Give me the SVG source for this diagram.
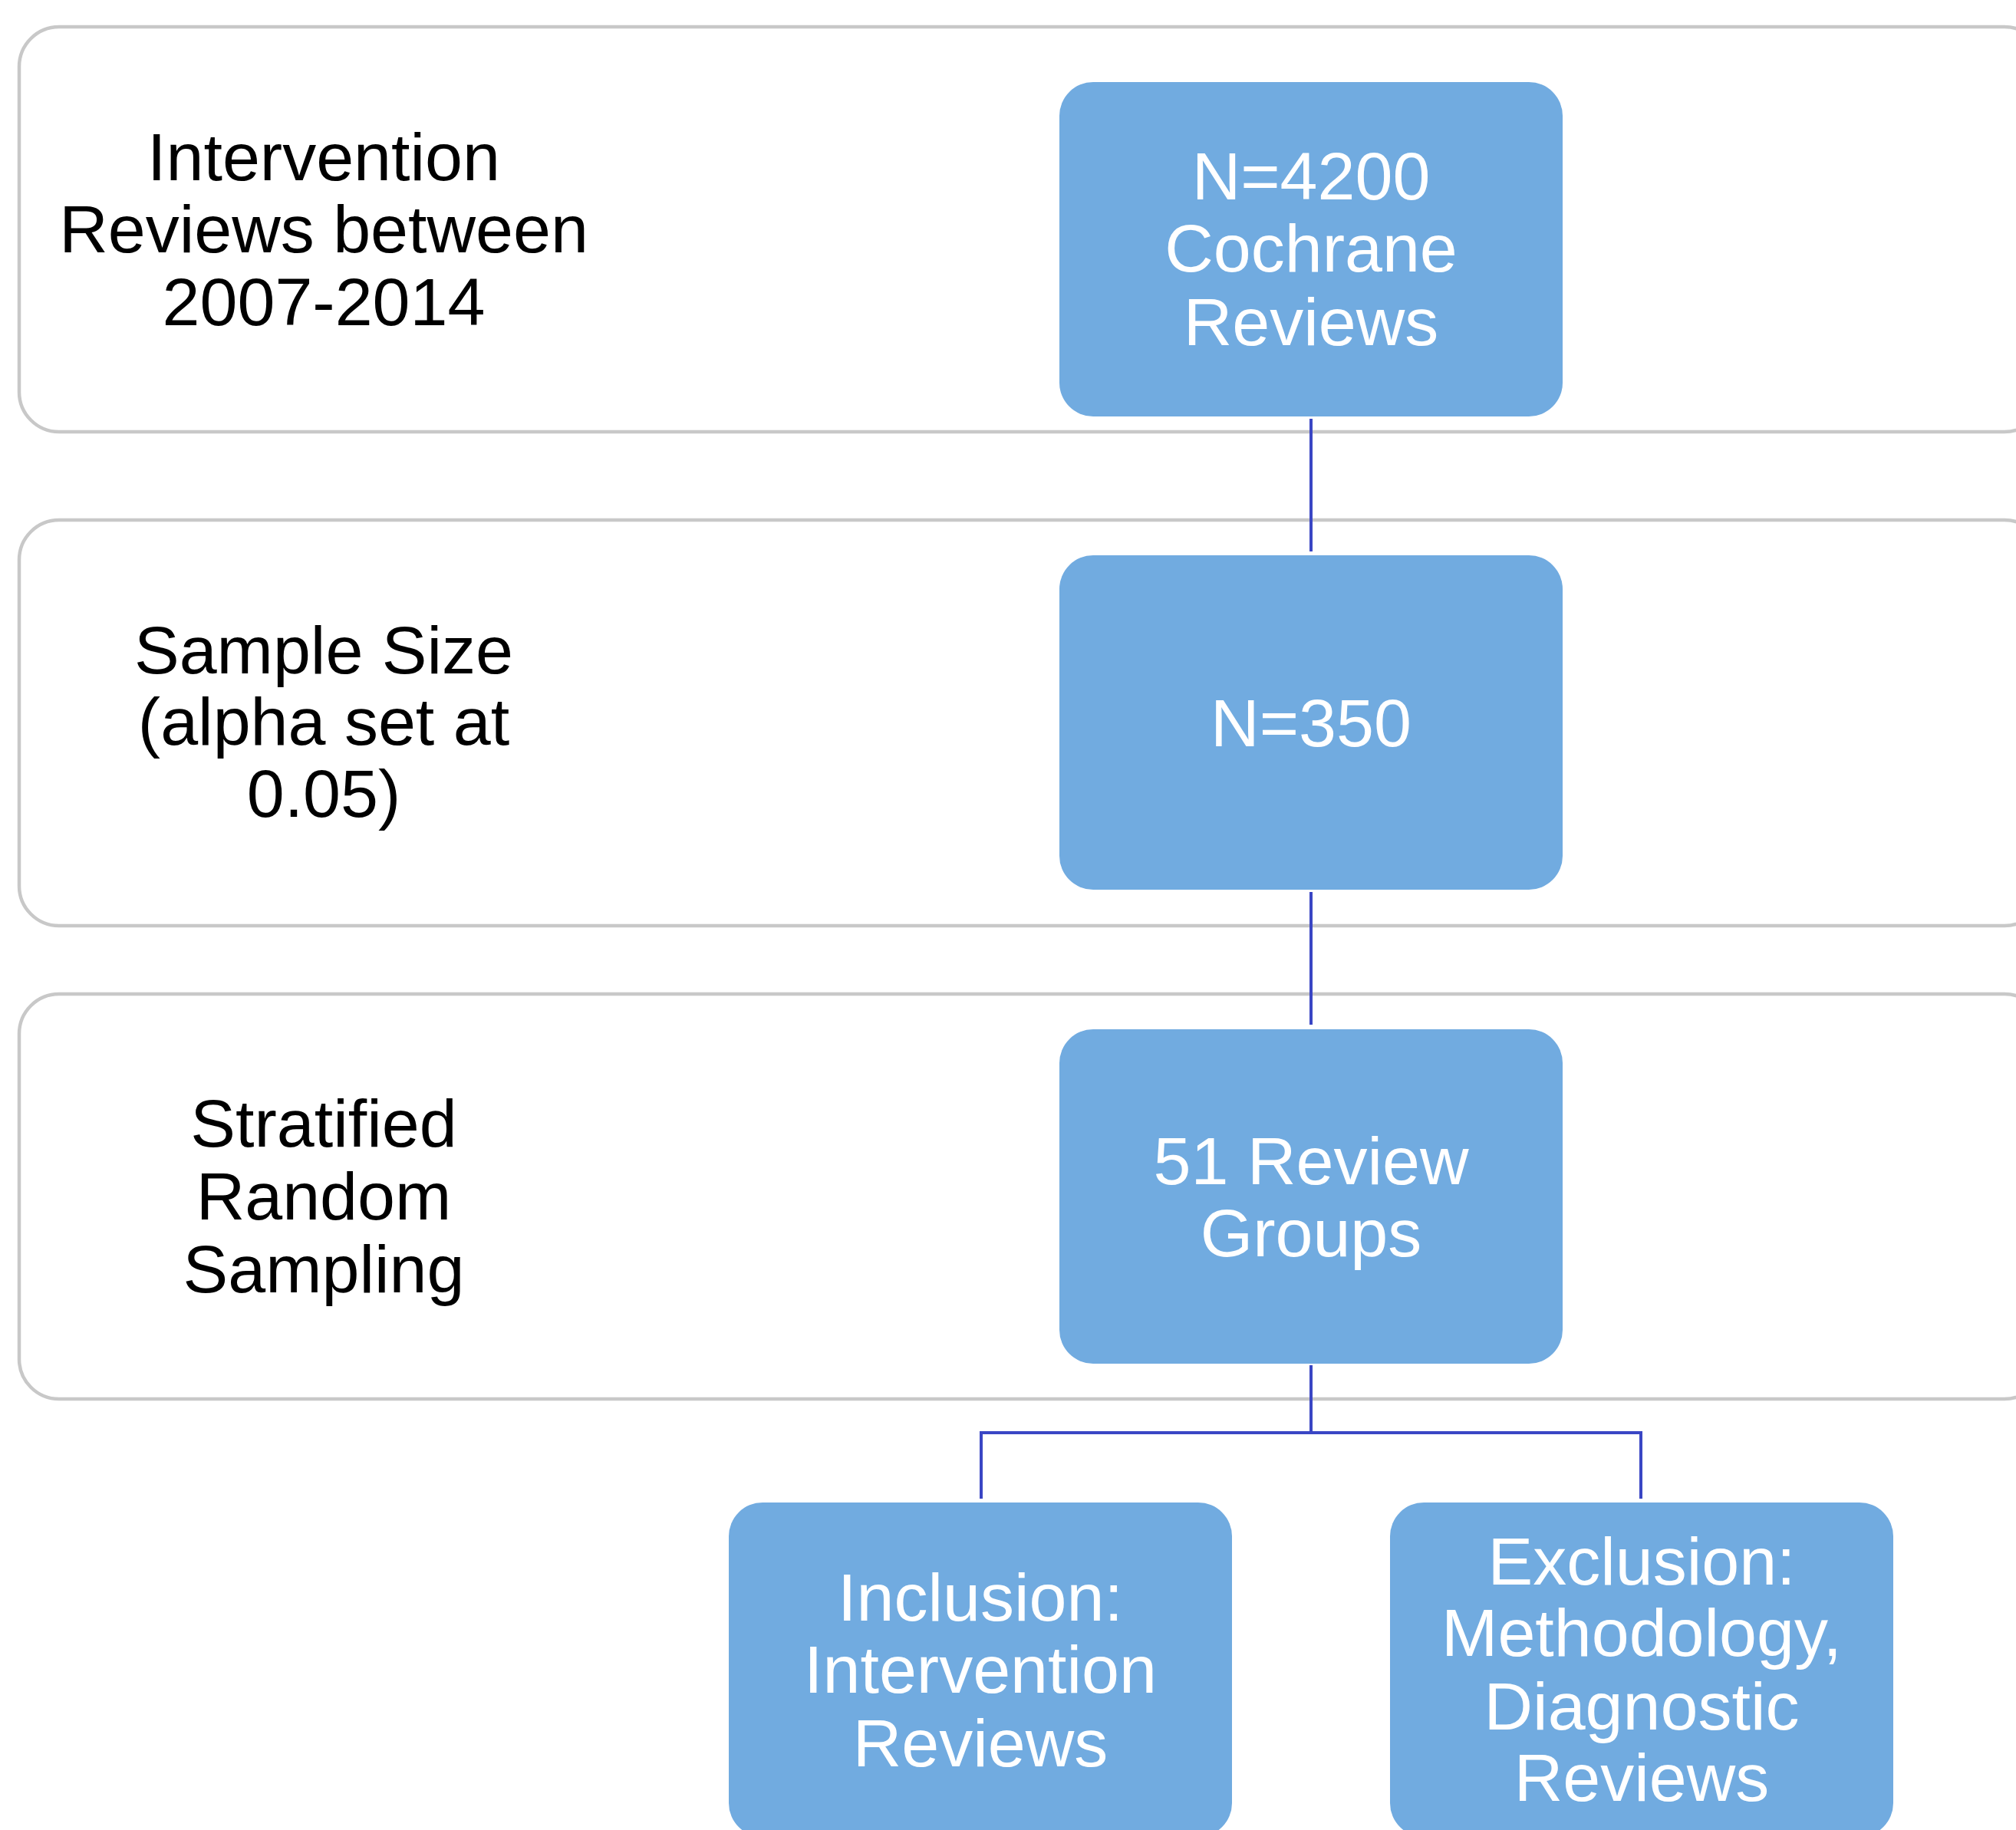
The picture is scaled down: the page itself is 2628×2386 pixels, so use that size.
<svg xmlns="http://www.w3.org/2000/svg" width="2628" height="2386" viewBox="0 0 2628 2386">
<style>
.band{fill:#ffffff;stroke:#c8c8c8;stroke-width:4.5}
.box{fill:#71abe0}
.lbl{font-family:"Liberation Sans",Arial,sans-serif;font-size:88px;fill:#000000;text-anchor:middle}
.wt{font-family:"Liberation Sans",Arial,sans-serif;font-size:88px;fill:#ffffff;text-anchor:middle}
.con{stroke:#3a46c4;stroke-width:4;fill:none}
</style>
<rect width="2628" height="2386" fill="#ffffff"/>
<g id="band1">
<rect class="band" x="25" y="35" width="2640" height="528" rx="52" ry="52"/>
<text class="lbl" x="422" y="235">Intervention</text>
<text class="lbl" x="422" y="329">Reviews between</text>
<text class="lbl" x="422" y="424">2007-2014</text>
</g>
<g id="band2">
<rect class="band" x="25" y="678" width="2640" height="529" rx="52" ry="52"/>
<text class="lbl" x="422" y="878">Sample Size</text>
<text class="lbl" x="422" y="971">(alpha set at</text>
<text class="lbl" x="422" y="1065">0.05)</text>
</g>
<g id="band3">
<rect class="band" x="25" y="1296" width="2640" height="528" rx="52" ry="52"/>
<text class="lbl" x="422" y="1495">Stratified</text>
<text class="lbl" x="422" y="1590">Random</text>
<text class="lbl" x="422" y="1685">Sampling</text>
</g>
<g id="connectors">
<line class="con" x1="1709" y1="546" x2="1709" y2="719"/>
<line class="con" x1="1709" y1="1163" x2="1709" y2="1336"/>
<path class="con" d="M1709 1780 V1868 M1279 1954 V1868 H2139 V1954"/>
</g>
<g id="box1">
<rect class="box" x="1381" y="107" width="656" height="436" rx="44" ry="44"/>
<text class="wt" x="1709" y="260">N=4200</text>
<text class="wt" x="1709" y="354">Cochrane</text>
<text class="wt" x="1709" y="450">Reviews</text>
</g>
<g id="box2">
<rect class="box" x="1381" y="724" width="656" height="436" rx="44" ry="44"/>
<text class="wt" x="1709" y="973">N=350</text>
</g>
<g id="box3">
<rect class="box" x="1381" y="1342" width="656" height="436" rx="44" ry="44"/>
<text class="wt" x="1709" y="1544">51 Review</text>
<text class="wt" x="1709" y="1638">Groups</text>
</g>
<g id="box4">
<rect class="box" x="950" y="1959" width="656" height="436" rx="44" ry="44"/>
<text class="wt" x="1278" y="2113">Inclusion:</text>
<text class="wt" x="1278" y="2207">Intervention</text>
<text class="wt" x="1278" y="2303">Reviews</text>
</g>
<g id="box5">
<rect class="box" x="1812" y="1959" width="656" height="436" rx="44" ry="44"/>
<text class="wt" x="2140" y="2066">Exclusion:</text>
<text class="wt" x="2140" y="2159">Methodology,</text>
<text class="wt" x="2140" y="2255">Diagnostic</text>
<text class="wt" x="2140" y="2348">Reviews</text>
</g>
</svg>
